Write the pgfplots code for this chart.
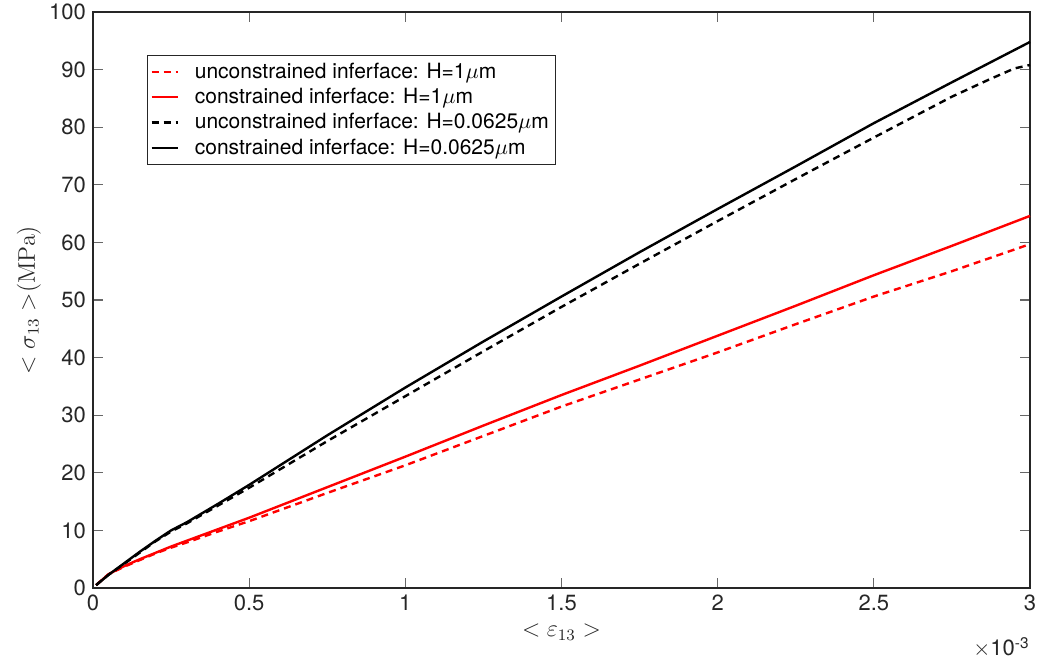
\documentclass[border=0pt]{standalone}
\usepackage[no-math]{fontspec}
\setmainfont{TeX Gyre Heros}
\usepackage{pgfplots}
\pgfplotsset{compat=1.18}
\definecolor{axgray}{RGB}{38,38,38}

\pgfplotstableread{
x y
0.01 0.5
0.05 2.3
0.10 4.3
0.15 6.3
0.20 8.2
0.25 10.0
0.30 11.4
0.40 14.6
0.50 17.9
0.75 26.5
1.00 34.8
1.25 42.8
1.50 50.6
1.75 58.3
2.00 65.8
2.25 73.2
2.50 80.7
2.75 87.8
3.00 94.8
}\blacksolid

\pgfplotstableread{
x y
0.01 0.5
0.05 2.3
0.10 4.2
0.20 8.1
0.25 9.8
0.30 11.2
0.40 14.3
0.50 17.4
0.75 25.5
1.00 33.3
1.25 41.1
1.50 48.8
1.75 56.3
2.00 63.7
2.25 71.0
2.50 78.2
2.75 85.3
2.87 88.3
2.95 90.2
3.00 90.8
}\blackdashed

\pgfplotstableread{
x y
0.01 0.5
0.05 2.4
0.10 3.8
0.15 5.0
0.20 6.1
0.25 7.2
0.30 8.2
0.40 10.2
0.50 12.2
0.75 17.5
1.00 22.8
1.25 28.2
1.50 33.5
1.75 38.6
2.00 43.8
2.25 49.0
2.50 54.3
2.75 59.4
3.00 64.6
}\redsolid

\pgfplotstableread{
x y
0.01 0.5
0.05 2.4
0.10 3.7
0.20 6.0
0.25 7.0
0.30 7.9
0.40 9.8
0.50 11.6
0.75 16.5
1.00 21.3
1.25 26.4
1.50 31.5
1.75 36.2
2.00 40.9
2.25 45.8
2.50 50.6
2.75 55.0
3.00 59.7
}\reddashed

\begin{document}
\begin{tikzpicture}
\begin{axis}[
  scale only axis,
  width=468.5pt, height=288pt,
  xmin=0, xmax=3, ymin=0, ymax=100,
  xtick={0,0.5,1,1.5,2,2.5,3},
  xticklabels={0,0.5,1,1.5,2,2.5,3},
  ytick={0,10,...,100},
  tick align=inside,
  major tick length=5pt,
  tick style={axgray!70, line width=0.6pt},
  axis line style={axgray, line width=0.6pt},
  tick label style={font=\fontsize{11}{13}\selectfont, text=axgray},
  /pgf/number format/assume math mode=true,
  every axis x label/.style={at={(axis description cs:0.5,0)}, yshift=-22pt, anchor=center},
  every axis y label/.style={at={(axis description cs:0,0.5)}, xshift=-32pt, rotate=90, anchor=center},
  label style={font=\fontsize{12}{14}\selectfont, text=axgray},
  xlabel={$<\varepsilon_{13}>$},
  ylabel={{$<\sigma_{13}>$}{$\mathrm{(MPa)}$}},
  legend style={at={(rel axis cs:0.0576,0.925)}, anchor=north west,
    draw=axgray, line width=0.5pt, inner sep=1.5pt,
    font=\fontsize{10.5}{12.8}\selectfont, cells={anchor=west},
    row sep=-0.5pt},
  legend image code/.code={\draw[#1] (0pt,0pt) -- (13pt,0pt); \path (19pt,0pt);},
  clip=false,
]
\addplot[red, line width=1.2pt, dash pattern=on 3.5pt off 2.5pt] table[x=x,y=y] {\reddashed};
\addlegendentry{unconstrained inferface: H=1$\mu$m}
\addplot[red, line width=1.2pt] table[x=x,y=y] {\redsolid};
\addlegendentry{constrained inferface: H=1$\mu$m}
\addplot[black, line width=1.2pt, dash pattern=on 3.5pt off 2.5pt] table[x=x,y=y] {\blackdashed};
\addlegendentry{unconstrained inferface: H=0.0625$\mu$m}
\addplot[black, line width=1.2pt] table[x=x,y=y] {\blacksolid};
\addlegendentry{constrained inferface: H=0.0625$\mu$m}
\node[anchor=base east, font=\fontsize{11}{13}\selectfont, text=axgray, inner sep=0pt]
  at (rel axis cs:1,0) [yshift=-34pt] {$\times$10\textsuperscript{-3}};
\end{axis}
\pgfresetboundingbox
\path[use as bounding box] (-46.5pt,-37.5pt) rectangle (476.5pt,294pt);
\end{tikzpicture}
\end{document}
